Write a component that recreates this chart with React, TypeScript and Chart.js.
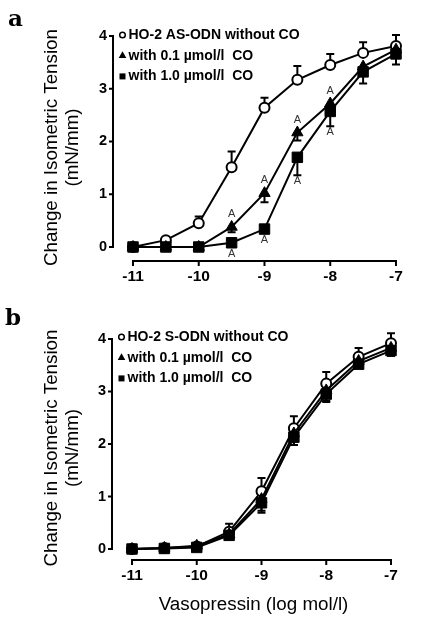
import React, { useEffect, useRef } from "react";
import { Chart, registerables } from "chart.js";

Chart.register(...registerables);

// ---------- data ----------
const doses = [-11, -10.5, -10, -9.5, -9, -8.5, -8, -7.5, -7];
const xTickValues = [-11, -10, -9, -8, -7];
const yTickValues = [0, 1, 2, 3, 4];

const labelsA = ["HO-2 AS-ODN without CO", "with 0.1 µmol/l  CO", "with 1.0 µmol/l  CO"];
const labelsB = ["HO-2 S-ODN without CO", "with 0.1 µmol/l  CO", "with 1.0 µmol/l  CO"];

// panel a
const aNoCO = [0, 0.13, 0.45, 1.51, 2.64, 3.17, 3.45, 3.68, 3.81];
const aNoCOErr = [0, 0.03, 0.13, 0.3, 0.19, 0.26, 0.21, 0.2, 0.21];
const aCO01 = [0, 0, 0, 0.38, 1.02, 2.17, 2.72, 3.42, 3.74];
const aCO01Err = [0, 0, 0, 0.1, 0.17, 0.15, 0.1, 0.1, 0.1];
const aCO10 = [0, 0, 0, 0.08, 0.34, 1.7, 2.57, 3.32, 3.66];
const aCO10Err = [0, 0, 0, 0.03, 0.05, 0.34, 0.28, 0.22, 0.2];
const aSig01 = [false, false, false, true, true, true, true, false, false];
const aSig10 = [false, false, false, true, true, true, true, false, false];

// panel b
const bNoCO = [0, 0.02, 0.05, 0.33, 1.1, 2.3, 3.15, 3.66, 3.92];
const bNoCOErr = [0, 0.02, 0.06, 0.15, 0.25, 0.23, 0.22, 0.17, 0.19];
const bCO01 = [0, 0.02, 0.06, 0.28, 0.95, 2.2, 3.02, 3.58, 3.83];
const bCO01Err = [0, 0.02, 0.04, 0.06, 0.26, 0.22, 0.2, 0.13, 0.15];
const bCO10 = [0, 0.01, 0.03, 0.26, 0.88, 2.13, 2.95, 3.52, 3.78];
const bCO10Err = [0, 0, 0.03, 0.05, 0.15, 0.15, 0.15, 0.07, 0.1];
const noSig = [false, false, false, false, false, false, false, false, false];

const sigText = "A";
const yAxisTitle = ["Change in Isometric Tension", "(mN/mm)"];
const xAxisTitle = "Vasopressin (log mol/l)";

const SANS = "'Liberation Sans', Arial, Helvetica, sans-serif";

type Marker = "circle" | "triangle" | "rect";

function drawLegendMarker(ctx: CanvasRenderingContext2D, m: Marker, x: number, y: number) {
  ctx.save();
  ctx.fillStyle = "#000";
  ctx.strokeStyle = "#000";
  if (m === "circle") {
    ctx.lineWidth = 1.5;
    ctx.beginPath();
    ctx.arc(x, y, 2.8, 0, Math.PI * 2);
    ctx.fillStyle = "#fff";
    ctx.fill();
    ctx.stroke();
  } else if (m === "triangle") {
    const r = 4.4;
    ctx.beginPath();
    ctx.moveTo(x, y - r);
    ctx.lineTo(x + r * 0.866, y + r * 0.5);
    ctx.lineTo(x - r * 0.866, y + r * 0.5);
    ctx.closePath();
    ctx.fill();
  } else {
    ctx.fillRect(x - 3, y - 3, 6, 6);
  }
  ctx.restore();
}

type PanelCfg = {
  top: number;
  height: number;
  letter: string;
  letterX: number;
  letterY: number;
  padTop: number;
  padRight: number;
  yWidth: number;
  xHeight: number;
  xMin: number;
  xMax: number;
  yMin: number;
  yMax: number;
  labels: string[];
  series: number[][];
  errors: number[][];
  sig: boolean[][];
  showXTitle: boolean;
};

const markers: Marker[] = ["circle", "triangle", "rect"];
const errDir = [1, -1, -1];
const sigSide = [0, -1, 1]; // -1 above, 1 below

function Panel({ cfg }: { cfg: PanelCfg }) {
  const ref = useRef<HTMLCanvasElement | null>(null);

  useEffect(() => {
    if (!ref.current) return;

    const decor = {
      id: "decor",
      beforeDatasetsDraw(chart: any) {
        const { ctx, chartArea } = chart;
        const x = chart.scales.x;
        const y = chart.scales.y;
        ctx.save();
        ctx.strokeStyle = "#000";
        ctx.lineWidth = 2;
        ctx.beginPath();
        const yl = chartArea.left;
        ctx.moveTo(yl, y.getPixelForValue(yTickValues[0]) + 1);
        ctx.lineTo(yl, y.getPixelForValue(yTickValues[yTickValues.length - 1]) - 1);
        yTickValues.forEach((v) => {
          const py = y.getPixelForValue(v);
          ctx.moveTo(yl - 4, py);
          ctx.lineTo(yl, py);
        });
        const xb = chartArea.bottom;
        ctx.moveTo(x.getPixelForValue(xTickValues[0]) - 1, xb);
        ctx.lineTo(x.getPixelForValue(xTickValues[xTickValues.length - 1]) + 1, xb);
        xTickValues.forEach((v) => {
          const px = x.getPixelForValue(v);
          ctx.moveTo(px, xb);
          ctx.lineTo(px, xb + 5);
        });
        ctx.stroke();

        // error bars
        chart.data.datasets.forEach((ds: any, i: number) => {
          const meta = chart.getDatasetMeta(i);
          meta.data.forEach((pt: any, j: number) => {
            const e = ds.errors[j];
            if (!e) return;
            const yEnd = y.getPixelForValue(ds.data[j].y + ds.errDir * e);
            ctx.beginPath();
            ctx.moveTo(pt.x, pt.y);
            ctx.lineTo(pt.x, yEnd);
            ctx.moveTo(pt.x - 4, yEnd);
            ctx.lineTo(pt.x + 4, yEnd);
            ctx.stroke();
          });
        });
        ctx.restore();
      },
      afterDatasetsDraw(chart: any) {
        const { ctx, chartArea } = chart;
        const y = chart.scales.y;
        ctx.save();
        // significance labels
        ctx.font = `11px ${SANS}`;
        ctx.fillStyle = "#333";
        ctx.textAlign = "center";
        ctx.textBaseline = "middle";
        chart.data.datasets.forEach((ds: any, i: number) => {
          const meta = chart.getDatasetMeta(i);
          meta.data.forEach((pt: any, j: number) => {
            if (!ds.sig[j]) return;
            const e = ds.errors[j] || 0;
            const cap = y.getPixelForValue(ds.data[j].y + ds.errDir * e);
            let py: number;
            if (ds.sigSide < 0) {
              py = Math.min(pt.y - 6.5, cap) - 6.5;
            } else {
              py = Math.max(pt.y + 5, cap) + 6;
            }
            ctx.fillText(sigText, pt.x, py);
          });
        });

        // legend
        ctx.font = `bold 14px ${SANS}`;
        ctx.fillStyle = "#000";
        ctx.textAlign = "left";
        ctx.textBaseline = "middle";
        chart.data.datasets.forEach((ds: any, i: number) => {
          const cy = chartArea.top + 1 + i * 20.7;
          drawLegendMarker(ctx, markers[i], chartArea.left + 9.5, cy);
          ctx.fillText(ds.label, chartArea.left + 15.5, cy);
        });

        // panel letter
        ctx.font = `bold 23px 'DejaVu Serif', 'Liberation Serif', serif`;
        ctx.textBaseline = "alphabetic";
        ctx.fillText(cfg.letter, cfg.letterX, cfg.letterY);
        ctx.restore();
      },
    };

    const datasets = [0, 1, 2].map((i) => ({
      label: cfg.labels[i],
      data: doses.map((d, j) => ({ x: d, y: cfg.series[i][j] })),
      errors: cfg.errors[i],
      errDir: errDir[i],
      sig: cfg.sig[i],
      sigSide: sigSide[i],
      borderColor: "#000",
      borderWidth: 2,
      pointStyle: markers[i],
      pointRadius: i === 0 ? 5 : i === 1 ? 6.5 : 7.4,
      pointBorderWidth: i === 0 ? 2 : 1,
      pointBackgroundColor: i === 0 ? "#fff" : "#000",
      pointBorderColor: "#000",
      tension: 0,
      clip: false as any,
      order: 3 - i,
    }));

    const chart = new Chart(ref.current, {
      type: "line",
      data: { datasets: datasets as any },
      options: {
        animation: false,
        responsive: false,
        events: [],
        layout: { padding: { left: 0, top: cfg.padTop, right: cfg.padRight, bottom: 0 } },
        plugins: { legend: { display: false }, tooltip: { enabled: false }, title: { display: false } },
        scales: {
          x: {
            type: "linear",
            min: cfg.xMin,
            max: cfg.xMax,
            afterBuildTicks: (s: any) => {
              s.ticks = xTickValues.map((v) => ({ value: v }));
            },
            afterFit: (s: any) => {
              s.height = cfg.xHeight;
            },
            grid: { display: false, drawTicks: false },
            border: { display: false },
            ticks: {
              autoSkip: false,
              maxRotation: 0,
              padding: 6,
              color: "#000",
              font: { family: SANS, size: 15.5, weight: "bold" },
              callback: (v: any) => String(v),
            },
            title: {
              display: cfg.showXTitle,
              text: xAxisTitle,
              color: "#000",
              font: { family: SANS, size: 18.8, weight: "normal", lineHeight: 1.2 },
              padding: { top: 0, bottom: 21 },
            },
          },
          y: {
            type: "linear",
            min: cfg.yMin,
            max: cfg.yMax,
            afterBuildTicks: (s: any) => {
              s.ticks = yTickValues.map((v) => ({ value: v }));
            },
            afterFit: (s: any) => {
              s.width = cfg.yWidth;
            },
            grid: { display: false, drawTicks: false },
            border: { display: false },
            ticks: {
              padding: 6,
              color: "#000",
              font: { family: SANS, size: 14.5, weight: "bold" },
              callback: (v: any) => String(v),
            },
            title: {
              display: true,
              text: yAxisTitle,
              color: "#000",
              font: { family: SANS, size: 18.8, weight: "normal", lineHeight: 1.1 },
              padding: { top: 41.7, bottom: 0 },
            },
          },
        },
      } as any,
      plugins: [decor],
    });

    return () => chart.destroy();
  }, [cfg]);

  return (
    <canvas
      ref={ref}
      width={437}
      height={cfg.height}
      style={{ position: "absolute", left: 0, top: cfg.top, width: 437, height: cfg.height, display: "block" }}
    />
  );
}

const panelA: PanelCfg = {
  top: 0,
  height: 300,
  letter: "a",
  letterX: 8,
  letterY: 26,
  padTop: 34,
  padRight: 37,
  yWidth: 113,
  xHeight: 39,
  xMin: -11.304,
  xMax: -6.939,
  yMin: -0.2654,
  yMax: 4.0379,
  labels: labelsA,
  series: [aNoCO, aCO01, aCO10],
  errors: [aNoCOErr, aCO01Err, aCO10Err],
  sig: [noSig, aSig01, aSig10],
  showXTitle: false,
};

const panelB: PanelCfg = {
  top: 300,
  height: 337,
  letter: "b",
  letterX: 5,
  letterY: 25,
  padTop: 36,
  padRight: 42,
  yWidth: 112,
  xHeight: 77,
  xMin: -11.3089,
  xMax: -6.9382,
  yMin: -0.2095,
  yMax: 4.0571,
  labels: labelsB,
  series: [bNoCO, bCO01, bCO10],
  errors: [bNoCOErr, bCO01Err, bCO10Err],
  sig: [noSig, noSig, noSig],
  showXTitle: true,
};

export default function App() {
  return (
    <div style={{ position: "absolute", left: 0, top: 0, width: 437, height: 637, background: "#fff" }}>
      <Panel cfg={panelA} />
      <Panel cfg={panelB} />
    </div>
  );
}
